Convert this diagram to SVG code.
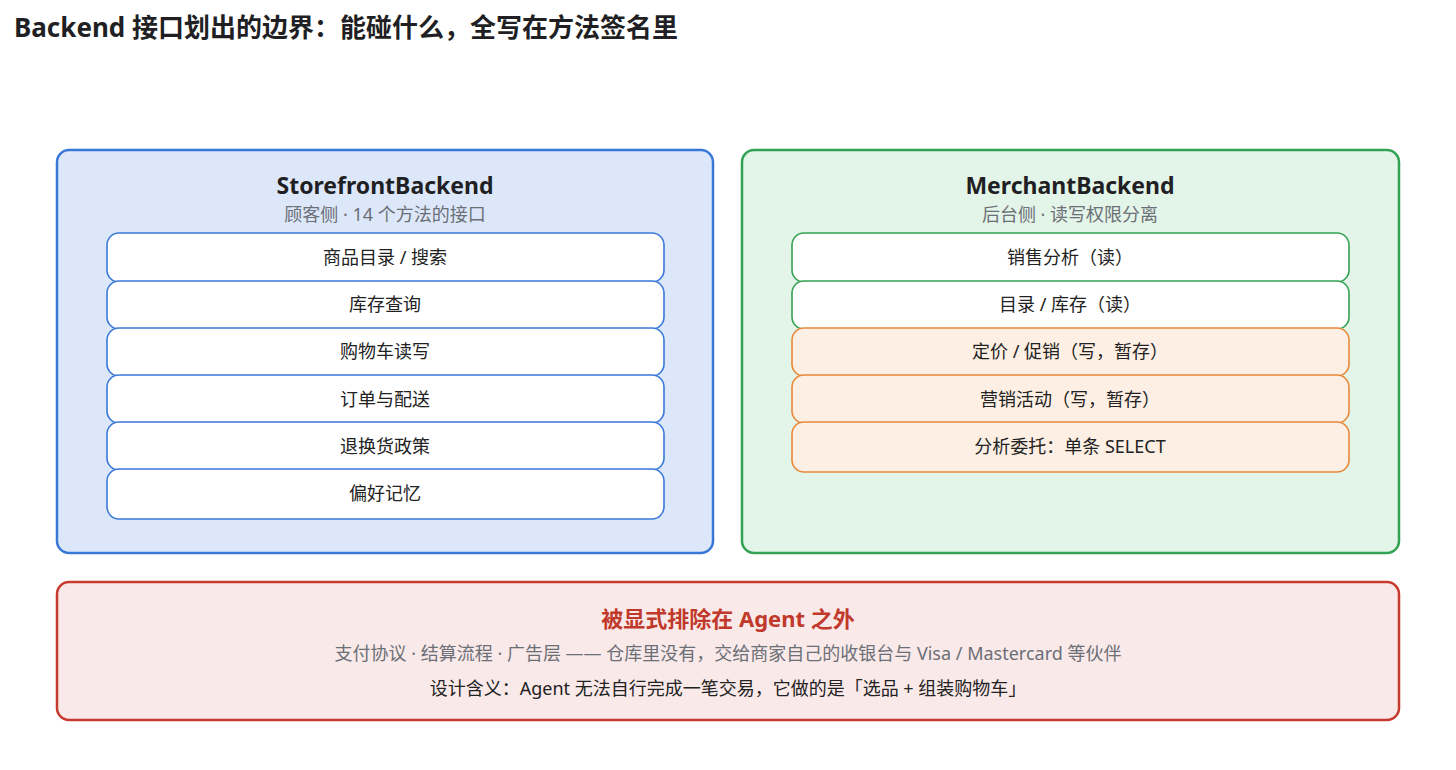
<svg xmlns="http://www.w3.org/2000/svg" width="1456" height="770" viewBox="0 0 1456 770">
<style>
text{font-family:"Noto Sans","Noto Sans CJK SC",sans-serif;}
.title{font-size:26px;font-weight:700;fill:#1f1f24;}
.ptitle{font-size:23px;font-weight:700;fill:#1f1f24;text-anchor:middle;}
.psub{font-size:18px;fill:#6b6f76;text-anchor:middle;}
.rtxt{font-size:18px;fill:#222;text-anchor:middle;}
.blue{fill:#dce8fa;stroke:#3a78d8;stroke-width:2.5;}
.green{fill:#e3f4e8;stroke:#34a253;stroke-width:2.5;}
.red{fill:#fae9e9;stroke:#c63a2f;stroke-width:2.5;}
.rowb{fill:#ffffff;stroke:#3a78d8;stroke-width:1.6;}
.rowg{fill:#ffffff;stroke:#34a253;stroke-width:1.6;}
.rowo{fill:#fdefe4;stroke:#e8893a;stroke-width:1.6;}
</style>
<rect width="1456" height="770" fill="#ffffff"/>
<text class="title" x="14" y="37">Backend 接口划出的边界：能碰什么，全写在方法签名里</text>

<g id="storefront">
<rect class="blue" x="57" y="150" width="656" height="403" rx="12"/>
<text class="ptitle" x="385" y="194">StorefrontBackend</text>
<text class="psub" x="385" y="221">顾客侧 · 14 个方法的接口</text>
<rect class="rowb" x="107" y="233" width="557" height="49" rx="12"/>
<text class="rtxt" x="385" y="264">商品目录 / 搜索</text>
<rect class="rowb" x="107" y="281" width="557" height="48" rx="12"/>
<text class="rtxt" x="385" y="311">库存查询</text>
<rect class="rowb" x="107" y="328" width="557" height="48" rx="12"/>
<text class="rtxt" x="385" y="358">购物车读写</text>
<rect class="rowb" x="107" y="375" width="557" height="48" rx="12"/>
<text class="rtxt" x="385" y="406">订单与配送</text>
<rect class="rowb" x="107" y="422" width="557" height="48" rx="12"/>
<text class="rtxt" x="385" y="453">退换货政策</text>
<rect class="rowb" x="107" y="469" width="557" height="50" rx="12"/>
<text class="rtxt" x="385" y="500">偏好记忆</text>
</g>

<g id="merchant">
<rect class="green" x="742" y="150" width="657" height="403" rx="12"/>
<text class="ptitle" x="1070" y="194">MerchantBackend</text>
<text class="psub" x="1070" y="221">后台侧 · 读写权限分离</text>
<rect class="rowg" x="792" y="233" width="557" height="49" rx="12"/>
<text class="rtxt" x="1070" y="264">销售分析（读）</text>
<rect class="rowg" x="792" y="281" width="557" height="48" rx="12"/>
<text class="rtxt" x="1070" y="311">目录 / 库存（读）</text>
<rect class="rowo" x="792" y="328" width="557" height="48" rx="12"/>
<text class="rtxt" x="1070" y="358">定价 / 促销（写，暂存）</text>
<rect class="rowo" x="792" y="375" width="557" height="48" rx="12"/>
<text class="rtxt" x="1070" y="406">营销活动（写，暂存）</text>
<rect class="rowo" x="792" y="422" width="557" height="50" rx="12"/>
<text class="rtxt" x="1070" y="453">分析委托：单条 SELECT</text>
</g>

<g id="excluded">
<rect class="red" x="57" y="582" width="1342" height="138" rx="12"/>
<text x="728" y="627" text-anchor="middle" style="font-size:22px;font-weight:700;fill:#c0392b;">被显式排除在 Agent 之外</text>
<text class="psub" x="728" y="660">支付协议 · 结算流程 · 广告层 —— 仓库里没有，交给商家自己的收银台与 Visa / Mastercard 等伙伴</text>
<text class="rtxt" x="728" y="695">设计含义：Agent 无法自行完成一笔交易，它做的是「选品 + 组装购物车」</text>
</g>

<g id="connectors"></g>
</svg>
